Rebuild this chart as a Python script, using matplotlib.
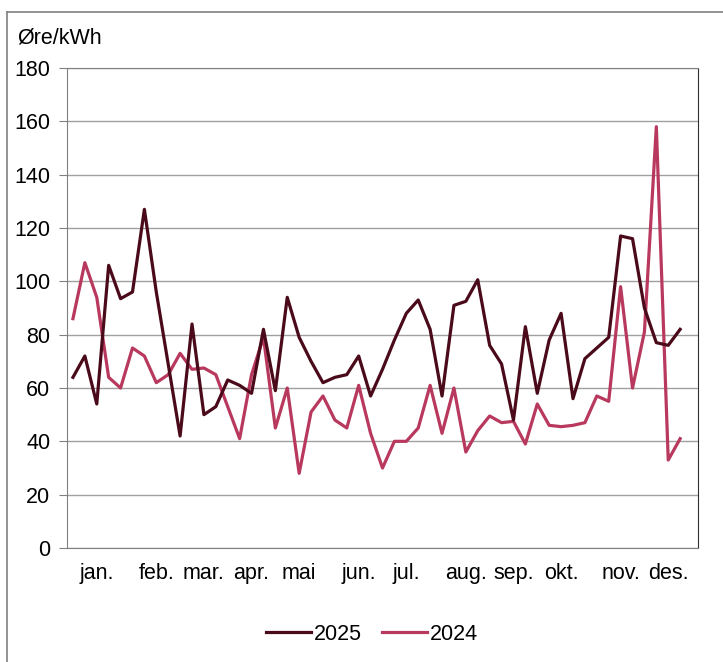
import numpy as np
import matplotlib
matplotlib.use("Agg")
import matplotlib.pyplot as plt
from matplotlib.lines import Line2D

plt.rcParams['font.family'] = ['Liberation Sans', 'DejaVu Sans']

# ukepriser, øre/kWh
pris_2025 = [64, 72, 54, 106, 93.5, 96, 127, 96, 69, 42,
             84, 50, 53, 63, 61, 58, 82, 59, 94, 79,
             70, 62, 64, 65, 72, 57, 67, 78, 88, 93,
             82, 57, 91, 92.5, 100.6, 76, 69, 48, 83, 58,
             78, 88, 56, 71, 75, 79, 117, 116, 90, 77,
             76, 82]
pris_2024 = [86, 107, 94, 64, 60, 75, 72, 62, 65, 73,
             67, 67.5, 65, 53, 41, 65, 79, 45, 60, 28,
             51, 57, 48, 45, 61, 43, 30, 40, 40, 45,
             61, 43, 60, 36, 44, 49.5, 47, 47.5, 39, 54,
             46, 45.5, 46, 47, 57, 55, 98, 60, 81, 158,
             33, 41]
maaneder = ["jan.", "feb.", "mar.", "apr.", "mai", "jun.", "jul.",
            "aug.", "sep.", "okt.", "nov.", "des."]
maaned_uke = [2, 7, 11, 15, 19, 24, 28, 33, 37, 41, 46, 50]

farge_2025 = "#4A0A1A"
farge_2024 = "#B8395D"
fs = 15.5

fig = plt.figure(figsize=(7.23, 6.62), dpi=100)
ax = fig.add_axes([67/723, 1-548/662, 631/723, 480/662])

uker = np.arange(len(pris_2025))
ax.plot(uker, pris_2025, color=farge_2025, lw=2.3, label="2025", zorder=3)
ax.plot(uker, pris_2024, color=farge_2024, lw=2.3, label="2024", zorder=2)

ax.set_xlim(-0.5, 52.5)
ax.set_ylim(0, 180)
ax.set_yticks(range(0, 181, 20))
ax.set_xticks(maaned_uke)
ax.set_xticklabels(maaneder)
ax.tick_params(axis="x", length=0, pad=11, labelsize=fs)
ax.tick_params(axis="y", length=6, color="#808080", pad=6, labelsize=fs)
ax.grid(axis="y", color="#A0A0A0", lw=1)
ax.set_axisbelow(True)
for side in ["left", "top", "bottom"]:
    ax.spines[side].set_color("#808080")
ax.spines["right"].set_color("#303030")

fig.text(17/723, 1-38/662, "Øre/kWh", fontsize=fs, va="center", ha="left")

# ytre ramme
fig.add_artist(Line2D([7/723, 7/723], [0, 1-12/662], transform=fig.transFigure,
                      color="#808080", lw=1.2))
fig.add_artist(Line2D([7/723, 1], [1-12/662, 1-12/662], transform=fig.transFigure,
                      color="#808080", lw=1.2))

fig.legend(loc="center", bbox_to_anchor=(372/723, 1-634/662), ncol=2,
           frameon=False, fontsize=fs, handlelength=2.1, handletextpad=0.15,
           columnspacing=0.9)

fig.savefig("out.png", dpi=100)
